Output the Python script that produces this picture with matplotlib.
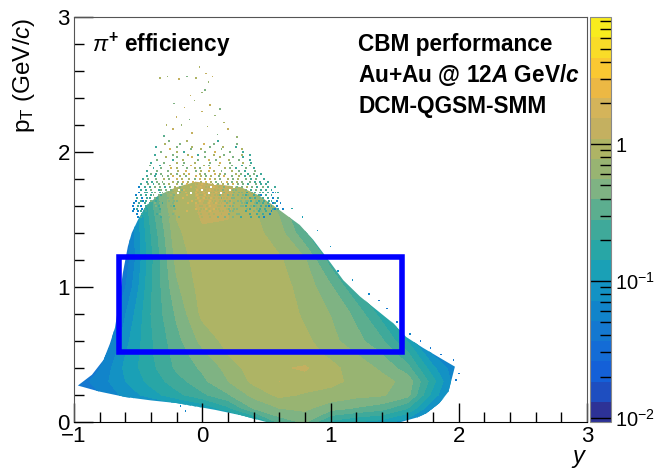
import numpy as np
import matplotlib
matplotlib.use("Agg")
from matplotlib import pyplot as plt
from matplotlib.colors import ListedColormap
from matplotlib.patches import Polygon, Rectangle
from matplotlib.ticker import MultipleLocator, FixedLocator

plt.rcParams['font.family'] = ['Liberation Sans', 'DejaVu Sans']
plt.rcParams['mathtext.fontset'] = 'custom'
plt.rcParams['mathtext.rm'] = 'Liberation Sans'
plt.rcParams['mathtext.it'] = 'Liberation Sans:italic'
plt.rcParams['mathtext.bf'] = 'Liberation Sans:bold'
plt.rcParams['mathtext.bfit'] = 'Liberation Sans:italic:bold'

# efficiency, rows = pT, columns = y
y_nodes = [-1.0, -0.8, -0.6, -0.4, -0.2, 0.0, 0.2, 0.4, 0.6, 0.8, 1.0, 1.2, 1.4, 1.6, 1.8, 2.0]
pt_nodes = [0.0, 0.1, 0.2, 0.3, 0.4, 0.5, 0.6, 0.8, 1.0, 1.2, 1.4, 1.6, 1.8]
eff = [
    [.03, .03, .03, .03, .03, .03, .05, .10, .32, .42, .18, .14, .12, .08, .04, .03],
    [.03, .03, .04, .05, .07, .10, .18, .40, .55, .60, .45, .38, .32, .20, .07, .04],
    [.04, .05, .08, .12, .18, .26, .38, .62, .85, .75, .70, .62, .58, .45, .12, .05],
    [.04, .06, .10, .16, .24, .36, .55, .85, 1.1, .95, .85, .72, .62, .50, .16, .05],
    [.03, .05, .11, .18, .30, .42, .62, .95, 1.05, 1.15, .85, .68, .52, .32, .11, .05],
    [.03, .04, .10, .19, .32, .50, .78, 1.0, 1.0, .88, .74, .56, .40, .22, .07, .03],
    [.03, .03, .09, .19, .35, .62, .88, 1.0, 1.0, .86, .62, .45, .30, .14, .04, .03],
    [.03, .03, .07, .20, .42, .85, 1.0, 1.05, 1.05, .72, .55, .36, .17, .06, .03, .03],
    [.03, .03, .05, .19, .52, .92, 1.0, 1.0, .90, .68, .42, .20, .07, .03, .03, .03],
    [.03, .03, .04, .18, .62, .98, 1.0, .95, .82, .58, .24, .08, .03, .03, .03, .03],
    [.03, .03, .04, .20, .72, 1.05, 1.05, .88, .65, .30, .10, .03, .03, .03, .03, .03],
    [.03, .03, .04, .25, .85, 1.2, 1.15, .80, .50, .20, .08, .03, .03, .03, .03, .03],
    [.03, .03, .04, .30, .85, 1.2, 1.2, .80, .50, .20, .08, .03, .03, .03, .03, .03],
]

# outline of the filled region
edge_y = [-0.97, -0.8, -0.6, -0.4, -0.2, 0.1, 0.3, 0.5, 1.55, 1.68, 1.75, 1.85, 1.92, 1.97, 1.88,
          1.72, 1.59, 1.49, 1.36, 1.23, 1.1, 1.0, 0.865, 0.76, 0.66, 0.56, 0.44, 0.3, 0.12, -0.05,
          -0.2, -0.34, -0.44, -0.5, -0.55, -0.58, -0.62, -0.65, -0.68, -0.72, -0.77, -0.86]
edge_pt = [0.27, 0.225, 0.185, 0.16, 0.14, 0.09, 0.05, 0.0, 0.0, 0.035, 0.065, 0.14, 0.225, 0.41, 0.46,
           0.55, 0.63, 0.73, 0.83, 0.93, 1.05, 1.18, 1.35, 1.46, 1.53, 1.6, 1.68, 1.74, 1.76, 1.78,
           1.74, 1.68, 1.6, 1.5, 1.4, 1.30, 1.10, 0.88, 0.70, 0.58, 0.46, 0.35]

# isolated filled bins far from the solid region
speck_y = [-0.02, 0.03, 0.05, -0.33, -0.27, -0.18, -0.12, -0.05, 0.08, 0.0, -0.09, 0.02,
           -0.22, -0.14, -0.06, 0.06, 0.14, -0.28, -0.2, -0.1, 0.0, 0.1, 0.17, -0.3, -0.23,
           -0.16, -0.08, 0.04, 0.12, 0.2, 0.27, 0.57, 0.7, 0.78, 0.9, 1.0, 1.06, 1.17, 1.3,
           1.38, 1.44, 1.52, 1.62, 1.7, 1.78, 1.86, 1.96, 2.0, 1.98, -0.17, -0.13]
speck_pt = [2.63, 2.58, 2.52, 2.55, 2.56, 2.54, 2.56, 2.55, 2.56, 2.44, 2.42, 2.46,
            2.36, 2.33, 2.38, 2.35, 2.32, 2.2, 2.26, 2.24, 2.3, 2.27, 2.22, 2.12, 2.17,
            2.2, 2.14, 2.19, 2.13, 2.17, 2.11, 1.7, 1.58, 1.52, 1.42, 1.3, 1.12, 1.05, 0.95,
            0.9, 0.84, 0.74, 0.65, 0.6, 0.55, 0.5, 0.46, 0.36, 0.31, 0.12, 0.08]
speck_eff = [.9, 1.1, .6, .9, .6, 1.2, .5, .9, 1.1, .7, 1.2, .5,
             .4, 1.1, .7, 1.3, .5, .8, 1.2, .4, 1.3, .7, .9, .3, 1.1,
             .6, 1.4, .8, .4, 1.2, .6, .2, .15, .12, .1, .1, .08, .08, .06,
             .05, .05, .05, .06, .05, .05, .05, .05, .05, .05, .06, .06]

# filled bins of the noisy top: one row per pT, one character per y bin (w = empty fleck)
speck_y0 = -0.56
speck_dy = 0.02
speck_pt_rows = [2.08, 2.06, 2.04, 2.02, 2.0, 1.98, 1.96, 1.94, 1.92, 1.9, 1.88, 1.86, 1.84, 1.82,
                 1.8, 1.78, 1.76, 1.74, 1.72, 1.7, 1.68, 1.66, 1.64, 1.62, 1.6, 1.58, 1.56, 1.54, 1.52]
speck_rows = [
    "...............g......o...........t....",
    ".............o.....g........y...g........g",
    "..........t.......g.....o......g....o....t",
    "...............y.......g...o.......g.......o",
    "............g.....o..t.......g...y.....g....t",
    ".........t......g.....o...t.....o...g......o..t",
    "..............o...g.....y....g.....o....g...t",
    "..........g.....t...o.....g...y..g....o...g...t",
    "........t....g....o..g...o.....g...y...g....o..t",
    ".......g...t...o....g..y....o.g...o....g...t..g",
    ".........t..g...y.o...g..o.g...y.....o.g.t...g..t",
    "......t...g...g...o..y...g.o..y.o..g...o..g.t...g",
    "........g.t.g...o.g..o.y...o.g...y.o.g...o.g..t.g..t",
    "......t..t..g.g.y..o.g...y.o.g.o..g.y..g..o.t.g..t",
    ".....t.g..g..o.g..y.o..o.g.y.o.y.o.g..o.g.o..g.t.g..t",
    "......t.t.g.g...o.g.y.o.y..o.y.o.g.o.y.g.o.g..g.t.t..t",
    "....t..g.t.g.g.o.wo.g.y.o.o.y.o.owg.o.g.y.gwg.t..g.t.t",
    "...b.t.t.g.g.t.gwo.g.o.y.o.y.oowy.o.g.oowg.g.o.g.t.g.t..t",
    "....t.t.g..tg.gwgoowgy.o.oyowo.y.oo.g.owgg.o.g.t.g.t.t.t",
    "...b.tt.tg.tg.g.oowgoyowoyooyowooyowg.oog.gg.t.gt.gt.t.b.t",
    "..b.t.t.tg.gtgg.og.oo.yoo.yooyoo.oogo.gog.g.gtg.t.tb.t.t",
    "..t.b.tt.gtg.gg.go.oyoo.ooyoyooyo.ogoo.gg.ogg.tgt.gt.t.b.t",
    "..b.tbt.g.t.gg.g.ggo.oo.yooy.ooyoo.oogog.ogg.ggt.gtgt.tt.b",
    ".b.t.t.ttg.gtg..g.oo.oyo.yo.ooy.oyoo.go.g.oggt..gtgt.t.bt.b",
    ".b.tb.t.t.gt.gg.gt.o.o.oo..oo.oy..oo.gogg.oggt.gtg.t.tbt.b",
    ".bt.bt.tt..tg....go.oo..oy.ooyo.yoo..og.gg.o.gt..gt.t..tbt.b",
    ".b.bt.t..t...gg..o.o.oyo..oo..oyo..oo..gg.o..t..g.tg.t.b",
    "..b.t..t..tg..g.g..o..o.o..o..o.o..o..g..gg...t..t.t..b",
    "...bt...t...t..g...g..o..o..o..o..g..g..g..t...t..t.b",
]
speck_code = {'b': 0.07, 't': 0.2, 'g': 0.5, 'o': 0.95, 'y': 1.6}

# cut shown with the blue box
box_y = [-0.65, 1.56]
box_pt = [0.52, 1.22]

xticks = [-1, 0, 1, 2, 3]
yticks = [0, 1, 2, 3]
z_min, z_max = 0.0093, 8.5

# 20 bands of the palette, bottom to top
band_colors = ['#2d3296', '#1e4ec0', '#1460d8', '#146cd6', '#1478d0', '#1184ca', '#1392c4', '#1aa0b6',
               '#28a6a6', '#3fa99a', '#5cae8f', '#7fb383', '#98b472', '#aeb465', '#c4b060', '#d4b45a',
               '#ecb844', '#fac832', '#f9dc28', '#f8ec1e']
levels = np.linspace(np.log10(z_min), np.log10(z_max), len(band_colors) + 1)
cmap = ListedColormap(band_colors)

fig = plt.figure(figsize=(6.58, 4.68), dpi=100)
ax = fig.add_axes([74 / 658, 46 / 468, 513 / 658, 405 / 468])

cs = ax.contourf(y_nodes, pt_nodes, np.log10(eff), levels=levels, cmap=cmap)
outline = Polygon(np.column_stack([edge_y, edge_pt]), closed=True, transform=ax.transData,
                  facecolor='none', edgecolor='none')
ax.add_patch(outline)
cs.set_clip_path(outline)

ax.scatter(speck_y, speck_pt, c=np.log10(speck_eff), cmap=cmap, vmin=levels[0], vmax=levels[-1],
           s=1.2, marker='s', linewidths=0)

row_y, row_pt, row_eff, fleck_y, fleck_pt = [], [], [], [], []
for r, (pt, row) in enumerate(zip(speck_pt_rows, speck_rows)):
    for i, ch in enumerate(row):
        # alternate rows sit half a bin apart, as the picture shows no straight columns
        bin_y = speck_y0 + (i + 0.5 * (r % 2)) * speck_dy
        if ch == 'w':
            fleck_y.append(bin_y)
            fleck_pt.append(pt)
        elif ch != '.':
            row_y.append(bin_y)
            row_pt.append(pt)
            row_eff.append(speck_code[ch])
ax.scatter(row_y, row_pt, c=np.log10(row_eff), cmap=cmap, vmin=levels[0], vmax=levels[-1],
           s=2, marker='s', linewidths=0)
ax.scatter(fleck_y, fleck_pt, c='white', s=1.5, marker='s', linewidths=0)

ax.add_patch(Rectangle((box_y[0], box_pt[0]), box_y[1] - box_y[0], box_pt[1] - box_pt[0],
                       fill=False, edgecolor='#0000ff', linewidth=4, zorder=5))

ax.set_xlim(-1, 3)
ax.set_ylim(0, 3)
ax.set_xticks(xticks)
ax.set_yticks(yticks)
ax.xaxis.set_minor_locator(MultipleLocator(0.2))
ax.yaxis.set_minor_locator(MultipleLocator(0.2))
ax.tick_params(which='major', direction='in', length=14, width=1, labelsize=16, pad=3)
ax.tick_params(which='minor', direction='in', length=7, width=1)
ax.set_xticklabels(['\u22121', '0', '1', '2', '3'])
for s in ['top', 'right', 'left']:
    ax.spines[s].set_color('#555555')

fig.text(578 / 658, 1 - 457 / 468, 'y', fontsize=17, style='italic', ha='center', va='center')
fig.text(24 / 658, 1 - 75 / 468, r'p$_{\mathrm{T}}$ (GeV/$c$)', fontsize=17.5, rotation=90,
         ha='center', va='center')

fig.text(92 / 658, 1 - 45 / 468, r'$\pi^{\mathbf{+}}$ efficiency', fontsize=16.3, fontweight='bold',
         ha='left', va='center')
fig.text(358 / 658, 1 - 45 / 468, 'CBM performance', fontsize=16.3, fontweight='bold', va='center')
fig.text(358 / 658, 1 - 75 / 468, r'Au+Au @ 12$\mathbfit{A}$ GeV/$\mathbfit{c}$', fontsize=16.3,
         fontweight='bold', va='center')
fig.text(358 / 658, 1 - 106 / 468, 'DCM-QGSM-SMM', fontsize=16.3, fontweight='bold', va='center')

cax = fig.add_axes([590 / 658, 46 / 468, 21 / 658, 405 / 468])
cb = fig.colorbar(cs, cax=cax)
cb.set_ticks(np.log10([0.01, 0.1, 1]))
cb.set_ticklabels([r'$10^{-2}$', r'$10^{-1}$', '1'])
minor_vals = [m * d for d in [0.01, 0.1, 1] for m in range(2, 10) if m * d < z_max]
cax.yaxis.set_minor_locator(FixedLocator(np.log10(minor_vals)))
cax.tick_params(which='major', direction='in', length=15, width=1, labelsize=14.5, pad=3, right=True, left=False)
cax.tick_params(which='minor', direction='in', length=8, width=1, right=True, left=False)
cb.outline.set_edgecolor('#888888')

fig.savefig('out.png', dpi=100)
